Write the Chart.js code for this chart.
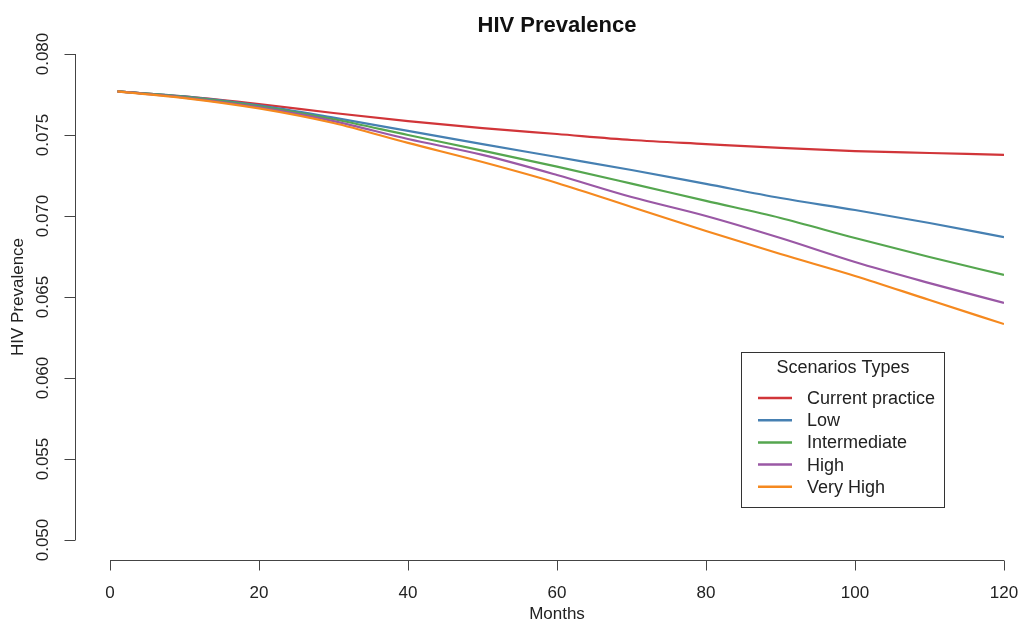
<!DOCTYPE html>
<html>
<head>
<meta charset="utf-8">
<title>HIV Prevalence</title>
<script src="https://cdn.jsdelivr.net/npm/chart.js@4"></script>
<style>
  html, body { margin: 0; padding: 0; background: #fff; }
  canvas { display: block; }
</style>
</head>
<body>
<canvas id="hivChart" width="1021" height="624"></canvas>
<script>
// months on the x axis
const months = [1, 10, 20, 30, 40, 50, 60, 70, 80, 90, 100, 110, 120];

// prevalence per scenario
const currentPractice = [0.07769, 0.07738, 0.07691, 0.07636, 0.07586, 0.07543, 0.07506, 0.07469, 0.07444, 0.07420, 0.07401, 0.07389, 0.07377];
const low             = [0.07769, 0.07738, 0.07683, 0.07607, 0.07525, 0.07444, 0.07364, 0.07284, 0.07198, 0.07111, 0.07037, 0.06957, 0.06870];
const intermediate    = [0.07769, 0.07735, 0.07677, 0.07597, 0.07500, 0.07404, 0.07305, 0.07200, 0.07093, 0.06988, 0.06864, 0.06747, 0.06636];
const high            = [0.07769, 0.07731, 0.07670, 0.07586, 0.07475, 0.07377, 0.07253, 0.07117, 0.07000, 0.06864, 0.06716, 0.06586, 0.06463];
const veryHigh        = [0.07769, 0.07728, 0.07664, 0.07574, 0.07451, 0.07333, 0.07204, 0.07056, 0.06907, 0.06765, 0.06630, 0.06481, 0.06333];

const seriesNames = ['Current practice', 'Low', 'Intermediate', 'High', 'Very High'];
const seriesValues = [currentPractice, low, intermediate, high, veryHigh];
const seriesColors = ['#D13539', '#4680B2', '#55A64F', '#9A58A5', '#F5891F'];

// tick labels
const xTicks = [0, 20, 40, 60, 80, 100, 120];
const yTicks = [0.050, 0.055, 0.060, 0.065, 0.070, 0.075, 0.080];

const FONT = '"Liberation Sans", Arial, sans-serif';
const TEXT = '#222';
const AXIS = '#444';

// R-style axes, title and legend drawn from the chart's own scales
const baseGraphics = {
    id: 'baseGraphics',
    afterDraw(chart) {
        const ctx = chart.ctx;
        const xs = chart.scales.x;
        const ys = chart.scales.y;
        ctx.save();
        ctx.strokeStyle = AXIS;
        ctx.lineWidth = 1;
        ctx.fillStyle = TEXT;

        // x axis
        const axisY = 560.5;
        ctx.beginPath();
        ctx.moveTo(xs.getPixelForValue(xTicks[0]), axisY);
        ctx.lineTo(xs.getPixelForValue(xTicks[xTicks.length - 1]), axisY);
        xTicks.forEach(t => {
            const px = Math.round(xs.getPixelForValue(t)) + 0.5;
            ctx.moveTo(px, axisY);
            ctx.lineTo(px, axisY + 10);
        });
        ctx.stroke();
        ctx.font = '17px ' + FONT;
        ctx.textAlign = 'center';
        ctx.textBaseline = 'middle';
        xTicks.forEach(t => {
            ctx.fillText(String(t), xs.getPixelForValue(t), 593);
        });
        ctx.fillText('Months', (xs.left + xs.right) / 2, 614);

        // y axis
        const axisX = 75.5;
        ctx.beginPath();
        ctx.moveTo(axisX, ys.getPixelForValue(yTicks[0]));
        ctx.lineTo(axisX, ys.getPixelForValue(yTicks[yTicks.length - 1]));
        yTicks.forEach(t => {
            const py = Math.round(ys.getPixelForValue(t)) + 0.5;
            ctx.moveTo(axisX, py);
            ctx.lineTo(axisX - 11, py);
        });
        ctx.stroke();
        yTicks.forEach(t => {
            ctx.save();
            ctx.translate(43, ys.getPixelForValue(t));
            ctx.rotate(-Math.PI / 2);
            ctx.fillText(t.toFixed(3), 0, 0);
            ctx.restore();
        });
        ctx.save();
        ctx.translate(18, (ys.top + ys.bottom) / 2);
        ctx.rotate(-Math.PI / 2);
        ctx.fillText('HIV Prevalence', 0, 0);
        ctx.restore();

        // title
        ctx.font = 'bold 22px ' + FONT;
        ctx.fillStyle = '#111';
        ctx.fillText('HIV Prevalence', (xs.left + xs.right) / 2, 26);

        // legend
        const boxL = 741.5, boxR = 944.5, boxT = 352.5, boxB = 507.5;
        ctx.fillStyle = '#fff';
        ctx.fillRect(boxL, boxT, boxR - boxL, boxB - boxT);
        ctx.strokeStyle = '#333';
        ctx.strokeRect(boxL, boxT, boxR - boxL, boxB - boxT);
        ctx.font = '18px ' + FONT;
        ctx.fillStyle = TEXT;
        ctx.fillText('Scenarios Types', (boxL + boxR) / 2, 368);
        ctx.textAlign = 'left';
        seriesNames.forEach((name, i) => {
            const y = 398 + i * 22.2;
            ctx.strokeStyle = seriesColors[i];
            ctx.lineWidth = 2.5;
            ctx.beginPath();
            ctx.moveTo(758, y);
            ctx.lineTo(792, y);
            ctx.stroke();
            ctx.fillStyle = TEXT;
            ctx.fillText(name, 807, y + 1);
        });
        ctx.restore();
    }
};

new Chart(document.getElementById('hivChart'), {
    type: 'line',
    data: {
        labels: months,
        datasets: seriesNames.map((name, i) => ({
            label: name,
            data: months.map((m, j) => ({ x: m, y: seriesValues[i][j] })),
            borderColor: seriesColors[i],
            borderWidth: 2.2,
            pointRadius: 0,
            cubicInterpolationMode: 'monotone',
            fill: false,
            order: seriesNames.length - i
        }))
    },
    options: {
        responsive: false,
        animation: false,
        layout: { padding: { left: 110, right: 17, top: 54, bottom: 84 } },
        scales: {
            x: { type: 'linear', min: 0, max: 120, display: false },
            y: { min: 0.05, max: 0.08, display: false }
        },
        plugins: {
            legend: { display: false },
            tooltip: { enabled: false },
            title: { display: false }
        }
    },
    plugins: [baseGraphics]
});
</script>
</body>
</html>
